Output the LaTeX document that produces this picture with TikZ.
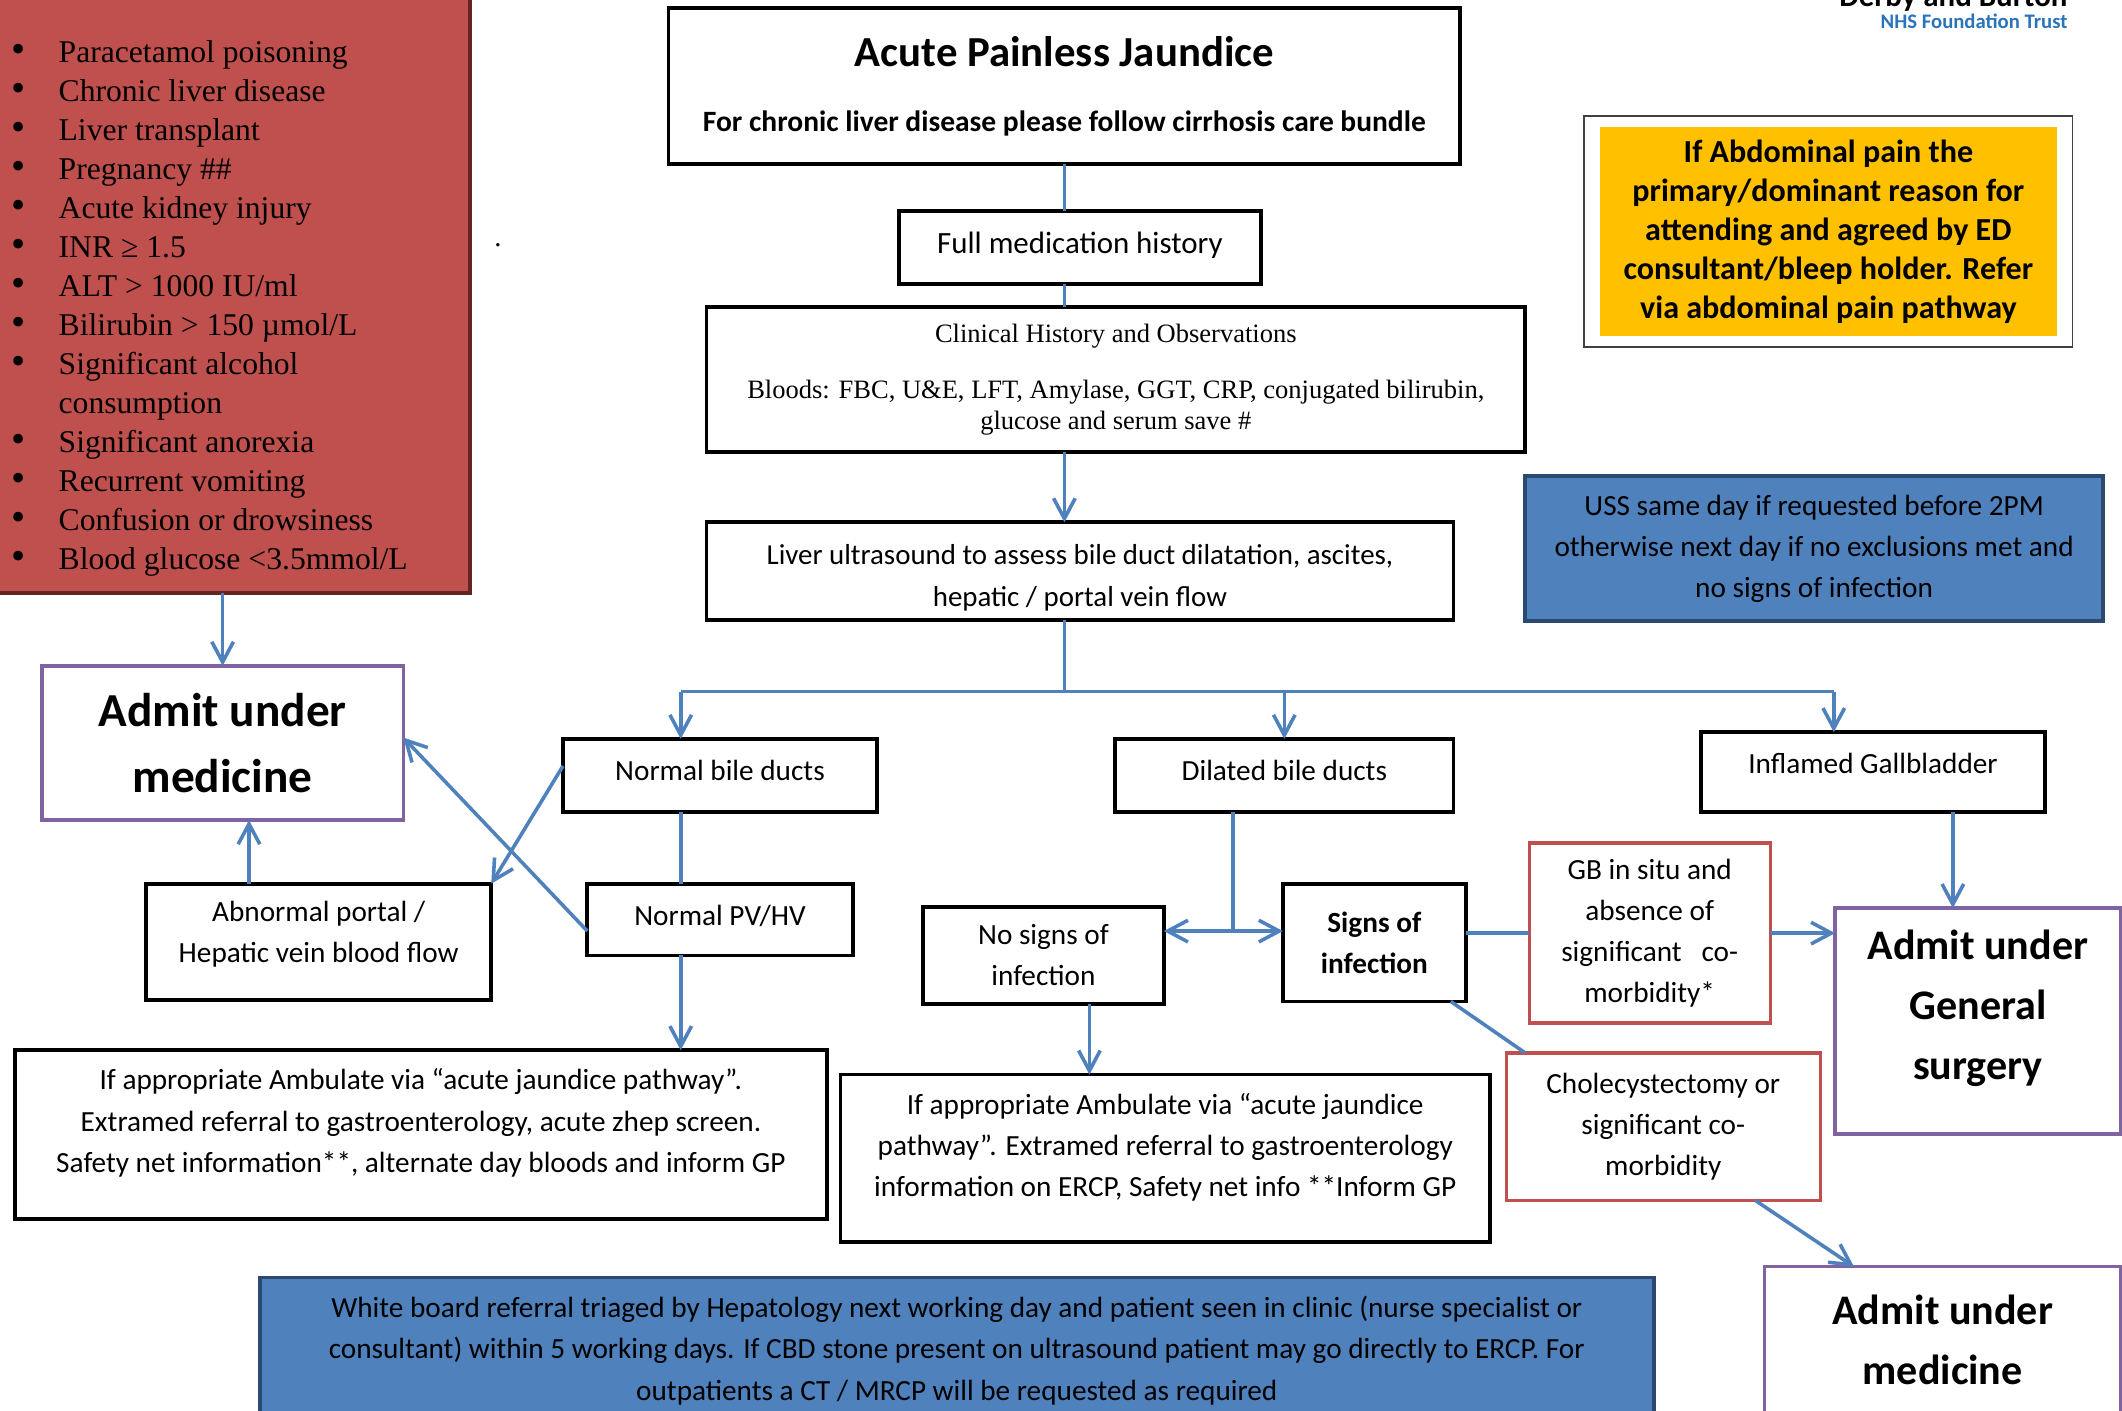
\documentclass[tikz,border=0pt]{standalone}
\usepackage{fontspec}
\setmainfont{Carlito}
\newfontfamily\timesfont{Liberation Serif}
\usepackage{tikz}
\usetikzlibrary{arrows.meta, positioning, fit}
\definecolor{flowBlue}{HTML}{4F81BD}
\definecolor{flowNavy}{HTML}{2C4A70}
\definecolor{exclRed}{HTML}{C0504D}
\definecolor{exclDark}{HTML}{632523}
\definecolor{admitPurple}{HTML}{8064A2}
\definecolor{abdoOrange}{HTML}{FFC000}
\definecolor{trustBlue}{HTML}{2A74BC}

\begin{document}
\begin{tikzpicture}[
    box/.style={draw, line width=1.6pt, align=center, inner sep=2pt,
                outer sep=0pt, font=\fontsize{12.3}{17.3}\selectfont},
    redbox/.style={box, draw=exclRed, line width=1.4pt},
    admit/.style={draw=admitPurple, line width=1.4pt, align=center,
                  outer sep=0pt, font=\bfseries\fontsize{17.7}{25.2}\selectfont},
    bluebox/.style={draw=flowNavy, fill=flowBlue, line width=1.6pt, outer sep=0pt,
                    align=center, font=\fontsize{12.3}{17.3}\selectfont},
    link/.style={flowBlue, line width=1.5pt},
    arrow/.style={link, -{Straight Barb[length=3mm, width=3.2mm]}},
]
\useasboundingbox (0,0) rectangle (31.36,-20.84);

% ── Exclusions ──
\node[fill=exclRed, draw=exclDark, line width=1.6pt, outer sep=0pt,
      minimum width=7.3cm, minimum height=9.1cm, anchor=south east]
    (excl) at (6.94,-8.76) {};
\node[anchor=north west, inner sep=0pt,
      font=\timesfont\fontsize{13.3}{16.4}\selectfont]
    (excllist) at (0.16,-0.51) {%
    \begin{tabular}{@{}p{0.70cm}@{}l@{}}
    {\fontsize{17}{16.4}\selectfont\textbullet} & Paracetamol poisoning\\
    {\fontsize{17}{16.4}\selectfont\textbullet} & Chronic liver disease\\
    {\fontsize{17}{16.4}\selectfont\textbullet} & Liver transplant\\
    {\fontsize{17}{16.4}\selectfont\textbullet} & Pregnancy \#\#\\
    {\fontsize{17}{16.4}\selectfont\textbullet} & Acute kidney injury\\
    {\fontsize{17}{16.4}\selectfont\textbullet} & INR ≥ 1.5\\
    {\fontsize{17}{16.4}\selectfont\textbullet} & ALT > 1000 IU/ml\\
    {\fontsize{17}{16.4}\selectfont\textbullet} & Bilirubin > 150 µmol/L\\
    {\fontsize{17}{16.4}\selectfont\textbullet} & Significant alcohol\\
                & consumption\\
    {\fontsize{17}{16.4}\selectfont\textbullet} & Significant anorexia\\
    {\fontsize{17}{16.4}\selectfont\textbullet} & Recurrent vomiting\\
    {\fontsize{17}{16.4}\selectfont\textbullet} & Confusion or drowsiness\\
    {\fontsize{17}{16.4}\selectfont\textbullet} & Blood glucose <3.5mmol/L
    \end{tabular}};
\node[inner sep=0pt, font=\timesfont\fontsize{12}{14}\selectfont]
    (dot) at (7.36,-3.62) {.};

% ── Trust name ──
\node[anchor=base east, inner sep=0pt, font=\bfseries\fontsize{13}{15}\selectfont]
    (trustname) at (30.56,-0.10) {Derby and Burton};
\node[anchor=base east, inner sep=0pt, text=trustBlue,
      font=\bfseries\fontsize{8.7}{10}\selectfont]
    (trustsub) at (30.56,-0.42) {NHS Foundation Trust};

% ── Main column ──
\node[box, minimum width=11.70cm, minimum height=2.30cm]
    (title) at (15.73,-1.27)
    {{\bfseries\fontsize{18}{22}\selectfont Acute Painless Jaundice}\\[0.35cm]
     {\bfseries\fontsize{12.4}{14}\selectfont For chronic liver disease please follow cirrhosis care bundle}};
\node[box, minimum width=5.36cm, minimum height=1.08cm, text depth=0.15cm,
      font=\fontsize{13}{16}\selectfont, below=0.70cm of title, xshift=0.23cm]
    (medhist) {Full medication history};
\node[box, minimum width=12.10cm, minimum height=2.14cm,
      font=\timesfont\fontsize{11.15}{13}\selectfont,
      below=0.34cm of medhist, xshift=0.53cm]
    (clinical) {Clinical History and Observations\\[0.38cm]
    Bloods: FBC, U\&E, LFT, Amylase, GGT, CRP, conjugated bilirubin,\\
    glucose and serum save \#};
\node[box, minimum width=11.04cm, minimum height=1.44cm,
      text height=1.05cm, text depth=0cm,
      font=\fontsize{12.15}{17.6}\selectfont,
      below=1.04cm of clinical, xshift=-0.53cm]
    (liverus) {Liver ultrasound to assess bile duct dilatation, ascites,\\
    hepatic / portal vein flow};

% ── Side notes ──
\node[fill=abdoOrange, minimum width=6.76cm, minimum height=3.08cm,
      align=center, font=\bfseries\fontsize{13.5}{16.4}\selectfont]
    (abdo) at (27.02,-3.42)
    {If Abdominal pain the\\primary/dominant reason for\\attending and agreed by ED\\
     consultant/bleep holder. Refer\\via abdominal pain pathway};
\node[draw=black!75, line width=0.7pt, fit=(abdo),
      inner xsep=0.22cm, inner ysep=0.16cm]
    (abdoframe) {};
\node[bluebox, minimum width=8.54cm, minimum height=2.14cm,
      below=1.90cm of abdoframe, xshift=-0.21cm]
    (uss) {USS same day if requested before 2PM\\
    otherwise next day if no exclusions met and\\no signs of infection};

% ── Ultrasound findings ──
\node[box, minimum width=4.64cm, minimum height=1.08cm, text depth=0.16cm,
      below=1.76cm of liverus.south west, anchor=north west, xshift=-2.12cm]
    (normbile) {Normal bile ducts};
\node[box, minimum width=5.00cm, minimum height=1.08cm, text depth=0.16cm,
      right=3.52cm of normbile]
    (dilbile) {Dilated bile ducts};
\node[box, minimum width=5.08cm, minimum height=1.18cm, text depth=0.26cm,
      right=3.66cm of dilbile, yshift=0.05cm]
    (inflgb) {Inflamed Gallbladder};

% ── Left branch ──
\node[admit, minimum width=5.34cm, minimum height=2.28cm,
      font=\bfseries\fontsize{19.9}{28}\selectfont, below=1.08cm of excl]
    (admed) {Admit under\\medicine};
\node[box, minimum width=3.92cm, minimum height=1.06cm, text depth=0.14cm,
      below=1.06cm of normbile]
    (normpv) {Normal PV/HV};
\node[box, minimum width=5.10cm, minimum height=1.72cm, text depth=0.30cm,
      left=1.42cm of normpv.north west, anchor=north east]
    (abnormal) {Abnormal portal /\\Hepatic vein blood flow};
\node[box, minimum width=12.00cm, minimum height=2.50cm, text depth=0.42cm,
      below=1.40cm of normpv.south east, anchor=north east, xshift=-0.38cm]
    (ambleft) {If appropriate Ambulate via “acute jaundice pathway”.\\
    Extramed referral to gastroenterology, acute zhep screen.\\
    Safety net information**, alternate day bloods and inform GP};

% ── Middle branch ──
\node[box, minimum width=2.70cm, minimum height=1.74cm,
      font=\bfseries\fontsize{12.3}{17.3}\selectfont,
      below=1.06cm of dilbile.south west, anchor=north west, xshift=2.48cm]
    (signs) {Signs of\\infection};
\node[box, minimum width=3.56cm, minimum height=1.44cm,
      left=1.76cm of signs, yshift=-0.19cm]
    (nosigns) {No signs of\\infection};
\node[box, minimum width=9.60cm, minimum height=2.48cm, text depth=0.40cm,
      below=1.04cm of nosigns, xshift=1.80cm]
    (ambmid) {If appropriate Ambulate via “acute jaundice\\
    pathway”. Extramed referral to gastroenterology\\
    information on ERCP, Safety net info **Inform GP};
\node[redbox, minimum width=3.56cm, minimum height=2.66cm,
      right=0.94cm of signs, yshift=0.14cm]
    (gbsitu) {GB in situ and\\absence of\\significant \ \ co-\\morbidity*};
\node[redbox, minimum width=4.64cm, minimum height=2.18cm,
      below=0.44cm of gbsitu, xshift=0.20cm]
    (chole) {Cholecystectomy or\\significant co-\\morbidity};

% ── Right branch ──
\node[admit, minimum width=4.22cm, minimum height=3.34cm, text depth=0.48cm,
      right=0.96cm of gbsitu.north east, anchor=north west, yshift=-0.96cm]
    (adgs) {Admit under\\General\\surgery};
\node[admit, minimum width=5.26cm, minimum height=2.16cm,
      below=0.98cm of chole.south west, anchor=north west, xshift=3.82cm]
    (admed2) {Admit under\\medicine};

% ── Hepatology referral ──
\node[bluebox, minimum width=20.60cm, minimum height=2.16cm,
      below=0.86cm of ambleft.south west, anchor=north west, xshift=3.62cm]
    (whiteboard) {White board referral triaged by Hepatology next working day and patient seen in clinic (nurse specialist or\\
    consultant) within 5 working days. If CBD stone present on ultrasound patient may go directly to ERCP. For\\
    outpatients a CT / MRCP will be requested as required};

% ── Arrows ──
\coordinate (busL) at (10.06,-10.22);
\coordinate (busR) at (27.10,-10.22);
\coordinate (split) at (18.22,-13.76);

\draw[link] (title.south) -- (title.south |- medhist.north);
\draw[link] (title.south |- medhist.south) -- (title.south |- clinical.north);
\draw[arrow] (title.south |- clinical.south) -- (title.south |- liverus.north);
\draw[link] (title.south |- liverus.south) -- (title.south |- busL);
\draw[link] (busL) -- (busR);
\draw[arrow] (busL) -- (busL |- normbile.north);
\draw[arrow] (busL -| dilbile.north) -- (dilbile.north);
\draw[arrow] (busR) -- (busR |- inflgb.north);

\draw[arrow] (admed.north |- excl.south) -- (admed.north);
\draw[arrow] ([xshift=1.52cm]abnormal.north west)
    -- ([xshift=1.52cm]abnormal.north west |- admed.south);
\draw[arrow] ([yshift=0.14cm]normbile.west) -- (abnormal.north east);
\draw[arrow] ([yshift=-0.17cm]normpv.west) -- ([yshift=0.08cm]admed.east);
\draw[link] (busL |- normbile.south) -- (busL |- normpv.north);
\draw[arrow] (busL |- normpv.south) -- (busL |- ambleft.north);

\draw[link] (split |- dilbile.south) -- (split);
\draw[arrow] (split) -- (split -| nosigns.east);
\draw[arrow] (split) -- (split -| signs.west);
\draw[arrow] ([xshift=0.68cm]nosigns.south)
    -- ([xshift=0.68cm]nosigns.south |- ambmid.north);
\draw[link] (signs.east |- gbsitu.west) -- (gbsitu.west);
\draw[arrow] (gbsitu.east) -- (gbsitu.east -| adgs.west);
\draw[link] ([xshift=-0.22cm]signs.south east) -- ([xshift=0.28cm]chole.north west);
\draw[arrow] ([xshift=1.18cm]inflgb.south)
    -- ([xshift=1.18cm]inflgb.south |- adgs.north);
\draw[arrow] ([xshift=-0.96cm]chole.south east) -- ([xshift=1.32cm]admed2.north west);
\end{tikzpicture}
\end{document}
